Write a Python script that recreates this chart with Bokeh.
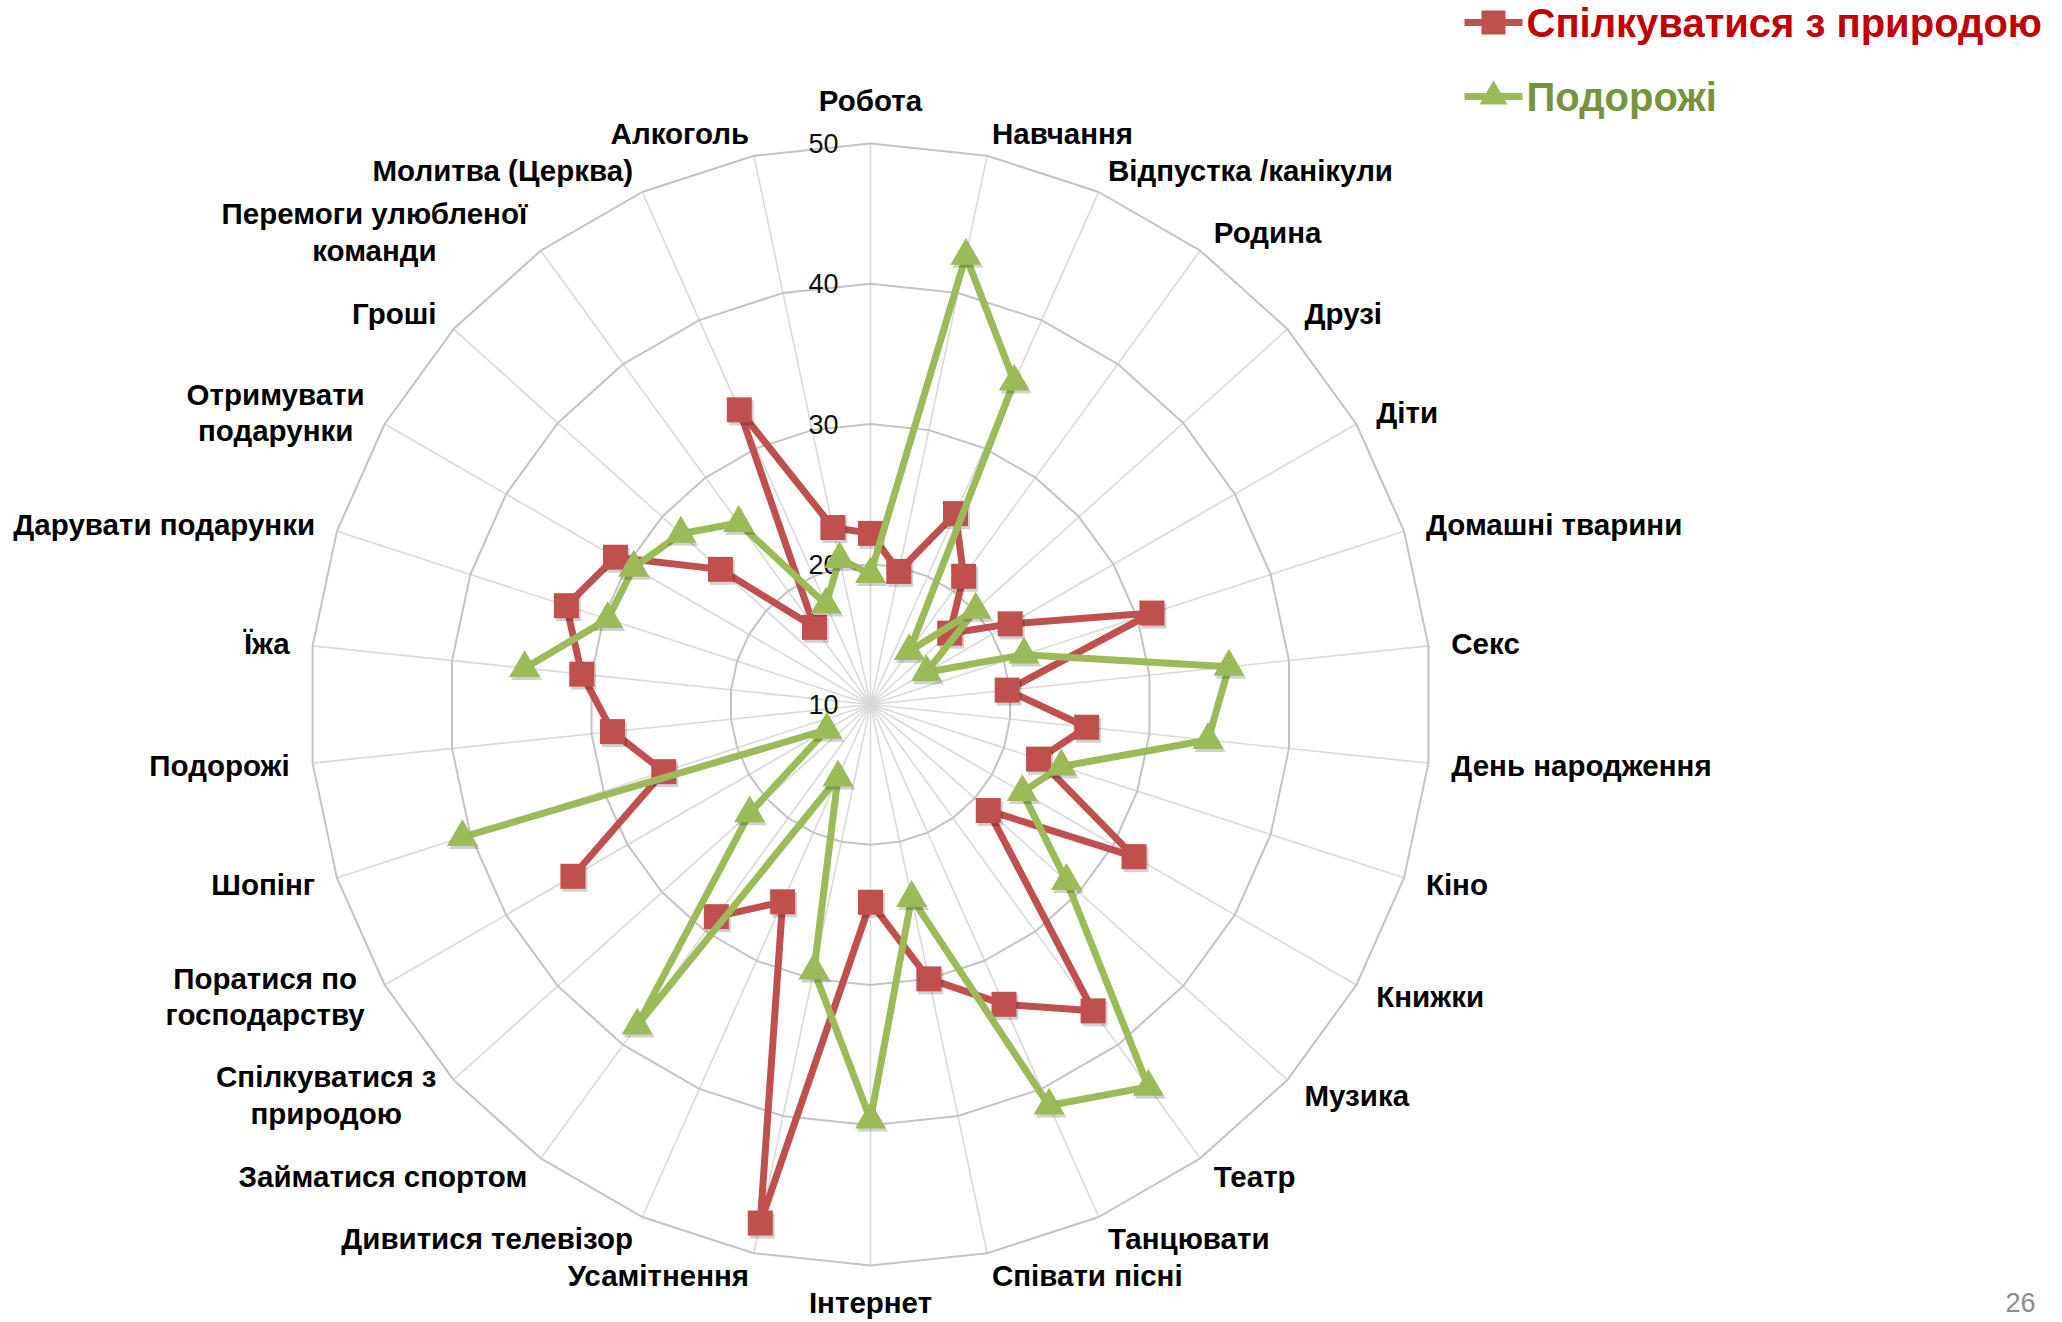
import numpy as np
from bokeh.plotting import figure
from bokeh.models import Range1d
from bokeh.core.properties import value
from bokeh.embed import file_html
from bokeh.resources import INLINE

# ---------------- data ----------------
categories = [
    "Робота", "Навчання", "Відпустка /канікули", "Родина", "Друзі", "Діти",
    "Домашні тварини", "Секс", "День народження", "Кіно", "Книжки", "Музика",
    "Театр", "Танцювати", "Співати пісні", "Інтернет", "Усамітнення",
    "Дивитися телевізор", "Займатися спортом", "Спілкуватися з\nприродою",
    "Поратися по\nгосподарству", "Шопінг", "Подорожі", "Їжа",
    "Дарувати подарунки", "Отримувати\nподарунки", "Гроші",
    "Перемоги улюбленої\nкоманди", "Молитва (Церква)", "Алкоголь",
]
series_names = ["Спілкуватися з природою", "Подорожі"]
nature = [22.2, 19.7, 24.9, 21.3, 17.6, 21.5, 31.1, 19.8, 25.5, 22.6,
          31.7, 21.3, 37.0, 33.4, 30.0, 24.1, 47.8, 25.4, 28.7, None,
          34.5, 25.5, 28.5, 30.7, 32.8, 31.0, 24.4, 16.8, 33.0, 22.9]
travel = [19.3, 42.7, 35.2, 14.7, 20.1, 14.6, 21.5, 35.7, 34.2, 24.3,
          22.5, 28.8, 43.7, 41.3, 24.1, 39.6, 29.4, 15.7, 38.3, 21.6,
          13.6, 40.6, None, 34.8, 29.7, 29.5, 28.2, 26.0, 17.8, 20.6]
ticks = [10, 20, 30, 40, 50]
page_number = "26"

# ---------------- layout ----------------
W, H = 2062, 1322
CX, CY = 870.0, 704.0
RMAX = 561.0
VMIN, VMAX = ticks[0], ticks[-1]
N = len(categories)
theta = np.radians(np.arange(N) * 360.0 / N)

RED = "#C0504D"
GREEN = "#9BBB59"
FONT = value("Liberation Sans")


def radial(v):
    return (np.asarray(v, dtype=float) - VMIN) / (VMAX - VMIN) * RMAX


def to_xy(vals):
    arr = np.array([np.nan if v is None else v for v in vals], dtype=float)
    r = radial(arr)
    return CX + r * np.sin(theta), CY - r * np.cos(theta)


p = figure(width=W, height=H, output_backend="svg", toolbar_location=None,
           x_range=Range1d(0, W), y_range=Range1d(H, 0),
           x_axis_location=None, y_axis_location=None, min_border=0)
p.outline_line_color = None
p.grid.visible = False
p.background_fill_color = "white"
p.border_fill_color = "white"

# spokes
ro = radial(VMAX)
p.segment(x0=[CX] * N, y0=[CY] * N, x1=list(CX + ro * np.sin(theta)),
          y1=list(CY - ro * np.cos(theta)), line_color="#D9D9D9", line_width=1.6)
# rings
for t in ticks[1:]:
    r = radial(t)
    xs = list(CX + r * np.sin(theta)) + [CX + r * np.sin(theta[0])]
    ys = list(CY - r * np.cos(theta)) + [CY - r * np.cos(theta[0])]
    p.line(xs, ys, line_color="#C3C3C3", line_width=2)

# tick labels
p.text(x=[CX - 32] * len(ticks), y=list(CY - radial(ticks)), text=[str(t) for t in ticks],
       text_font=FONT, text_font_size="27px", text_color="#111111",
       text_align="right", text_baseline="middle")

# series
def draw_series(vals, color, marker, msize):
    x, y = to_xy(vals)
    xl = list(x) + [x[0]]
    yl = list(y) + [y[0]]
    p.line(xl, yl, line_color=color, line_width=7, line_join="round")
    p.scatter(x + 2, y + 3, marker=marker, size=msize, fill_color="black",
              fill_alpha=0.18, line_color=None)
    p.scatter(x, y, marker=marker, size=msize, fill_color=color, line_color=None)

draw_series(nature, RED, "square", 25)
draw_series(travel, GREEN, "triangle", 31)

# category labels
RL = 584.0
for i, lab in enumerate(categories):
    s, c = np.sin(theta[i]), np.cos(theta[i])
    x = CX + RL * s
    y = CY - RL * c
    if s > 0.01:
        anchor, align = "center_left", "left"
    elif s < -0.01:
        anchor, align = "center_right", "right"
    elif c > 0:
        anchor, align = "bottom_center", "center"
        y = CY - (RL + 4)
    else:
        anchor, align = "top_center", "center"
        y = CY + (RL - 3)
    if "\n" in lab:
        align = "center"
    p.text(x=[x], y=[y], text=[lab], anchor=value(anchor), text_align=align,
           text_font=FONT, text_font_style="bold", text_font_size="29.5px",
           text_color="#000000", text_line_height=1.12)

# legend
leg_y = [22, 96]
leg_colors = [RED, GREEN]
leg_text_colors = ["#C00000", "#77933C"]
leg_markers = ["square", "triangle"]
leg_sizes = [24, 28]
for k in range(2):
    p.line([1464, 1522], [leg_y[k], leg_y[k]], line_color=leg_colors[k], line_width=7)
    p.scatter([1493], [leg_y[k]], marker=leg_markers[k], size=leg_sizes[k],
              fill_color=leg_colors[k], line_color=None)
    p.text(x=[1526], y=[leg_y[k]], text=[series_names[k]], text_font=FONT,
           text_font_style="bold", text_font_size="40px", text_color=leg_text_colors[k],
           text_align="left", text_baseline="middle")

# page number
p.text(x=[2020], y=[1292], text=[page_number], text_font=FONT, text_font_size="27px",
       text_color="#8C8C8C", text_align="center", text_baseline="top")

open("out.html", "w").write(file_html(p, INLINE))
